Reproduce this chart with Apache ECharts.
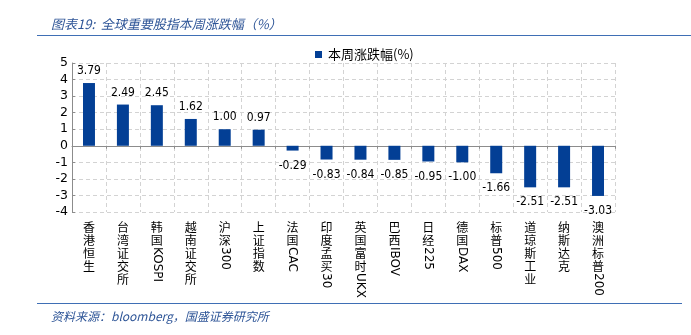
<!DOCTYPE html>
<html>
<head>
<meta charset="utf-8">
<script src="https://cdn.jsdelivr.net/npm/echarts@6/dist/echarts.min.js"></script>
<style>
html,body{margin:0;padding:0;background:#fff;}
#c{width:691px;height:335px;}
</style>
</head>
<body>
<div id="c"></div>
<script>
const categories = ['香港恒生','台湾证交所','韩国KOSPI','越南证交所','沪深300','上证指数','法国CAC','印度孟买30','英国富时UKX','巴西IBOV','日经225','德国DAX','标普500','道琼斯工业','纳斯达克','澳洲标普200'];
const values = [3.79, 2.49, 2.45, 1.62, 1.00, 0.97, -0.29, -0.83, -0.84, -0.85, -0.95, -1.00, -1.66, -2.51, -2.51, -3.03];
const seriesName = '本周涨跌幅(%)';
const yTicks = [-4, -3, -2, -1, 0, 1, 2, 3, 4, 5];
const titleText = '图表19:  全球重要股指本周涨跌幅（%）';
const sourceText = '资料来源：bloomberg，国盛证券研究所';

const cjkParts = categories.map(c => c.match(/^([^\x00-\x7f]*)(.*)$/)[1]);
const latinParts = categories.map(c => c.match(/^([^\x00-\x7f]*)(.*)$/)[2]);

const CJK = '"Noto Sans CJK SC", sans-serif';
const LAT = '"DejaVu Sans", "Noto Sans", sans-serif';
const LBL = '"DejaVu Sans Condensed", "Liberation Sans", sans-serif';
const LINE_H = 13;

const richPads = {};
for (let n = 0; n <= 6; n++) {
  richPads['p' + n] = { width: n * LINE_H, fontSize: 12, fontFamily: LAT };
}
richPads.l = { fontSize: 12, fontFamily: LAT, color: '#000' };

const chart = echarts.init(document.getElementById('c'));
chart.setOption({
  animation: false,
  backgroundColor: '#fff',
  title: [
    { text: titleText, left: 46, top: 13,
      textStyle: { fontFamily: CJK, fontStyle: 'italic', fontWeight: 'normal', fontSize: 13, color: '#2E5597' } },
    { text: sourceText, left: 46, top: 305,
      textStyle: { fontFamily: CJK, fontStyle: 'italic', fontWeight: 'normal', fontSize: 12, color: '#2E5597' } }
  ],
  graphic: [
    { type: 'line', shape: { x1: 37, y1: 35.5, x2: 691, y2: 35.5 }, style: { stroke: '#3F6FB5', lineWidth: 1.2 } },
    { type: 'line', shape: { x1: 37, y1: 303.5, x2: 682, y2: 303.5 }, style: { stroke: '#3F6FB5', lineWidth: 1.2 } }
  ],
  legend: {
    data: [seriesName], left: 310, top: 43,
    itemWidth: 7, itemHeight: 7, itemGap: 3, icon: 'rect',
    textStyle: { fontFamily: CJK, fontSize: 13, color: '#000', padding: [0,0,0,1] }
  },
  grid: { left: 72, right: 76, top: 63, bottom: 123, containLabel: false },
  xAxis: [
    {
      type: 'category', data: cjkParts, position: 'bottom',
      axisLine: { show: false, onZero: false }, axisTick: { show: false },
      splitLine: { show: true, interval: 0, lineStyle: { color: '#D3D3D3', type: [4, 3], width: 1 } },
      axisLabel: {
        interval: 0, margin: 9, fontFamily: CJK, fontSize: 12, lineHeight: LINE_H, color: '#000',
        formatter: v => v.split('').join('\n')
      }
    },
    {
      type: 'category', data: categories, position: 'bottom',
      axisLine: { show: false, onZero: false }, axisTick: { show: false }, splitLine: { show: false },
      axisLabel: {
        interval: 0, margin: 9, rotate: -90, color: '#000',
        formatter: (v, i) => latinParts[i] ? '{p' + cjkParts[i].length + '| }{l|' + latinParts[i] + '}' : '',
        rich: richPads
      }
    },
    {
      type: 'category', data: categories, position: 'bottom',
      axisLine: { show: true, onZero: true, lineStyle: { color: '#8C8C8C', width: 1 } },
      axisTick: { show: true, interval: 0, length: 3, lineStyle: { color: '#8C8C8C' } },
      axisLabel: { show: false }, splitLine: { show: false }
    }
  ],
  yAxis: {
    type: 'value', min: yTicks[0], max: yTicks[yTicks.length - 1], interval: 1,
    axisLine: { show: true, lineStyle: { color: '#8C8C8C', width: 1 } },
    axisTick: { show: true, inside: true, length: 3, lineStyle: { color: '#8C8C8C' } },
    splitLine: { show: true, lineStyle: { color: '#D3D3D3', type: [4, 3], width: 1 } },
    axisLabel: { fontFamily: LAT, fontSize: 12.5, color: '#000', margin: 4 }
  },
  series: [{
    name: seriesName, type: 'bar', xAxisIndex: 0, barWidth: 12,
    itemStyle: { color: '#033F95' },
    data: values.map(v => ({
      value: v,
      label: { position: v >= 0 ? 'top' : 'bottom', distance: v >= 0 ? 6 : 9 }
    })),
    label: {
      show: true, fontFamily: LBL, fontSize: 12, color: '#000',
      formatter: p => p.value.toFixed(2)
    }
  }]
});
</script>
</body>
</html>
